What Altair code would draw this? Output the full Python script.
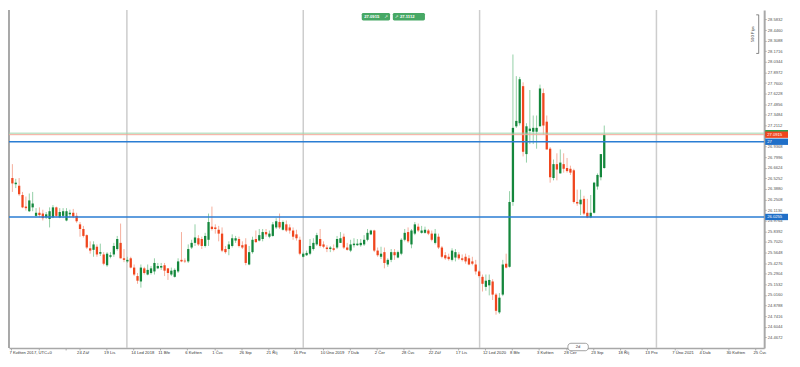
import altair as alt
import pandas as pd

# ---------------- data (weekly EUR/CZK candles) ----------------
first_week = "2017-05-07"

opens = [26.53, 26.45, 26.43, 26.31, 26.16, 26.10, 26.15, 26.04, 26.08, 26.07,
         26.02, 26.00, 26.02, 26.15, 26.02, 26.04, 25.98, 26.06, 26.08, 26.04,
         25.93, 25.87, 25.79, 25.62, 25.60, 25.64, 25.55, 25.54, 25.40, 25.51,
         25.54, 25.61, 25.69, 25.49, 25.45, 25.49, 25.37, 25.26, 25.19, 25.36,
         25.28, 25.30, 25.32, 25.36, 25.37, 25.40, 25.36, 25.28, 25.25, 25.32,
         25.47, 25.46, 25.45, 25.63, 25.69, 25.75, 25.74, 25.65, 25.73, 25.90,
         25.89, 25.86, 25.81, 25.61, 25.61, 25.65, 25.72, 25.74, 25.66, 25.67,
         25.41, 25.57, 25.74, 25.72, 25.74, 25.83, 25.77, 25.78, 25.89, 25.96,
         25.86, 25.93, 25.89, 25.85, 25.80, 25.73, 25.51, 25.53, 25.55, 25.61,
         25.67, 25.74, 25.67, 25.63, 25.61, 25.62, 25.63, 25.69, 25.77, 25.63,
         25.59, 25.66, 25.66, 25.66, 25.67, 25.73, 25.80, 25.85, 25.59, 25.51,
         25.57, 25.41, 25.47, 25.57, 25.50, 25.55, 25.73, 25.83, 25.67, 25.81,
         25.90, 25.82, 25.82, 25.85, 25.81, 25.69, 25.77, 25.63, 25.53, 25.51,
         25.47, 25.50, 25.54, 25.49, 25.51, 25.49, 25.45, 25.41, 25.32, 25.25,
         25.12, 25.14, 25.19, 25.02, 24.79, 25.02, 25.42, 25.38, 26.22, 27.20,
         27.24, 27.72, 26.84, 27.14, 27.13, 27.13, 27.20, 27.63, 27.26, 26.91,
         26.53, 26.71, 26.59, 26.71, 26.66, 26.65, 26.63, 26.22, 26.19, 26.26,
         26.08, 26.02, 26.08, 26.42, 26.54, 26.66]

highs = [26.71, 26.52, 26.53, 26.35, 26.29, 26.33, 26.35, 26.14, 26.15, 26.12,
         26.09, 26.15, 26.18, 26.16, 26.14, 26.14, 26.14, 26.12, 26.13, 26.08,
         25.96, 25.91, 25.80, 25.71, 25.71, 25.67, 25.68, 25.57, 25.57, 25.57,
         25.69, 25.78, 25.94, 25.61, 25.51, 25.51, 25.41, 25.30, 25.41, 25.38,
         25.41, 25.39, 25.49, 25.43, 25.43, 25.43, 25.36, 25.37, 25.36, 25.49,
         25.83, 25.49, 25.67, 25.73, 25.93, 25.79, 25.77, 25.82, 26.07, 26.16,
         25.93, 25.91, 25.89, 25.65, 25.71, 25.80, 25.78, 25.77, 25.71, 25.75,
         25.65, 25.77, 25.85, 25.87, 25.87, 25.87, 25.85, 25.96, 26.01, 26.07,
         25.98, 25.98, 25.93, 25.89, 25.86, 25.77, 25.57, 25.59, 25.74, 25.75,
         25.82, 25.87, 25.71, 25.66, 25.65, 25.67, 25.78, 25.83, 25.81, 25.69,
         25.73, 25.75, 25.74, 25.74, 25.79, 25.87, 25.86, 25.86, 25.63, 25.64,
         25.63, 25.49, 25.61, 25.61, 25.59, 25.75, 25.87, 25.89, 25.87, 25.96,
         25.94, 25.91, 25.90, 25.87, 25.85, 25.87, 25.81, 25.65, 25.57, 25.55,
         25.62, 25.61, 25.57, 25.54, 25.55, 25.53, 25.51, 25.47, 25.34, 25.28,
         25.28, 25.28, 25.22, 25.04, 25.04, 25.47, 25.55, 26.36, 28.13, 27.85,
         27.84, 27.77, 27.24, 27.67, 27.34, 27.34, 27.74, 27.69, 27.34, 26.93,
         26.77, 26.85, 26.90, 26.85, 26.79, 26.69, 26.65, 26.38, 26.38, 26.30,
         26.26, 26.31, 26.48, 26.59, 26.84, 27.21]

lows = [26.35, 26.40, 26.30, 26.14, 26.11, 26.09, 26.10, 26.02, 26.02, 25.98,
        26.00, 25.89, 26.01, 26.02, 26.01, 26.01, 25.97, 26.02, 26.01, 25.95,
        25.77, 25.76, 25.61, 25.55, 25.51, 25.51, 25.52, 25.40, 25.38, 25.49,
        25.51, 25.59, 25.49, 25.44, 25.43, 25.36, 25.26, 25.16, 25.11, 25.28,
        25.27, 25.28, 25.28, 25.35, 25.34, 25.26, 25.21, 25.26, 25.24, 25.30,
        25.44, 25.43, 25.43, 25.61, 25.65, 25.65, 25.61, 25.63, 25.65, 25.85,
        25.81, 25.71, 25.57, 25.55, 25.53, 25.63, 25.69, 25.63, 25.61, 25.40,
        25.40, 25.55, 25.69, 25.71, 25.71, 25.77, 25.75, 25.77, 25.87, 25.87,
        25.85, 25.83, 25.81, 25.73, 25.72, 25.53, 25.50, 25.52, 25.53, 25.59,
        25.65, 25.63, 25.62, 25.57, 25.57, 25.58, 25.61, 25.69, 25.61, 25.59,
        25.57, 25.63, 25.65, 25.64, 25.65, 25.71, 25.79, 25.57, 25.51, 25.48,
        25.36, 25.38, 25.44, 25.47, 25.49, 25.53, 25.71, 25.69, 25.62, 25.79,
        25.83, 25.81, 25.81, 25.79, 25.71, 25.67, 25.61, 25.49, 25.47, 25.46,
        25.45, 25.45, 25.47, 25.45, 25.42, 25.40, 25.40, 25.28, 25.24, 25.06,
        25.07, 25.01, 24.95, 24.76, 24.77, 25.00, 25.36, 25.37, 26.17, 27.18,
        27.21, 26.81, 26.73, 26.97, 26.97, 26.91, 27.20, 27.09, 26.90, 26.47,
        26.50, 26.50, 26.59, 26.60, 26.60, 26.57, 26.20, 26.17, 26.05, 26.05,
        26.01, 26.01, 26.07, 26.38, 26.50, 26.65]

closes = [26.46, 26.47, 26.32, 26.15, 26.14, 26.24, 26.20, 26.08, 26.05, 26.01,
          26.06, 26.10, 26.15, 26.04, 26.09, 26.10, 26.10, 26.08, 26.03, 25.97,
          25.87, 25.78, 25.63, 25.59, 25.67, 25.54, 25.57, 25.42, 25.55, 25.53,
          25.65, 25.74, 25.49, 25.47, 25.47, 25.37, 25.28, 25.20, 25.37, 25.30,
          25.34, 25.36, 25.43, 25.39, 25.39, 25.33, 25.30, 25.33, 25.34, 25.45,
          25.45, 25.45, 25.61, 25.69, 25.76, 25.67, 25.65, 25.78, 25.96, 25.87,
          25.87, 25.81, 25.59, 25.57, 25.67, 25.75, 25.75, 25.65, 25.63, 25.43,
          25.57, 25.73, 25.70, 25.79, 25.83, 25.80, 25.81, 25.93, 25.97, 25.89,
          25.96, 25.85, 25.85, 25.77, 25.75, 25.55, 25.55, 25.56, 25.65, 25.69,
          25.79, 25.65, 25.64, 25.61, 25.63, 25.60, 25.74, 25.75, 25.63, 25.60,
          25.67, 25.68, 25.68, 25.69, 25.73, 25.82, 25.85, 25.59, 25.53, 25.55,
          25.43, 25.47, 25.57, 25.53, 25.57, 25.73, 25.82, 25.71, 25.85, 25.93,
          25.85, 25.85, 25.86, 25.81, 25.73, 25.81, 25.63, 25.51, 25.49, 25.48,
          25.59, 25.57, 25.49, 25.47, 25.45, 25.41, 25.42, 25.32, 25.26, 25.16,
          25.20, 25.21, 25.02, 24.81, 24.98, 25.41, 25.37, 26.22, 27.18, 27.27,
          27.81, 26.87, 27.20, 27.17, 27.18, 27.18, 27.69, 27.21, 26.90, 26.54,
          26.71, 26.64, 26.73, 26.65, 26.62, 26.60, 26.22, 26.20, 26.25, 26.07,
          26.02, 26.08, 26.47, 26.57, 26.84, 27.09]

bid = 27.0915
ask = 27.1112
levels = [27.0, 26.0255]
level_labels = ["27", "26.0255"]

tick_dates = ["2017-05-07", "2017-09-24", "2017-11-19", "2018-01-14", "2018-03-11",
              "2018-05-06", "2018-07-01", "2018-08-26", "2018-10-21", "2018-12-16",
              "2019-02-10", "2019-04-07", "2019-06-02", "2019-07-28", "2019-09-22",
              "2019-11-17", "2020-01-12", "2020-03-08", "2020-05-03", "2020-06-28",
              "2020-08-23", "2020-10-18", "2020-12-13", "2021-02-07", "2021-04-04",
              "2021-05-30", "2021-07-25"]
tick_labels = ["7 Květen 2017, UTC+0", "24 Zář", "19 Lis", "14 Led 2018", "11 Bře",
               "6 Květen", "1 Čvc", "26 Srp", "21 Říj", "16 Pro",
               "10 Úno 2019", "7 Dub", "2 Čer", "28 Čvc", "22 Zář",
               "17 Lis", "12 Led 2020", "8 Bře", "3 Květen", "28 Čer",
               "23 Srp", "18 Říj", "13 Pro", "7 Úno 2021", "4 Dub",
               "30 Květen", "25 Čvc"]
hidden_tick_dates = ["2017-07-02", "2017-08-27"]
year_lines = ["2018-01-01", "2019-01-01", "2020-01-01", "2021-01-01"]

# price-axis labels (27.0740 sits under the price tags and is not shown)
y_ticks = [28.5832, 28.4460, 28.3088, 28.1716, 28.0344, 27.8972, 27.7600, 27.6228,
           27.4856, 27.3484, 27.2112, 26.9368, 26.7996, 26.6624, 26.5252,
           26.3880, 26.2508, 26.1136, 25.9764, 25.8392, 25.7020, 25.5648, 25.4276,
           25.2904, 25.1532, 25.0160, 24.8788, 24.7416, 24.6044, 24.4672]

pips_top = 28.644
pips_count = 500
pip_size = 0.001
period_label = "2d"

x_domain = ["2017-05-02", "2021-08-12"]
y_domain = [24.329, 28.7054]

# ---------------- styling ----------------
W, H = 760, 340
FONT = "Liberation Sans"
GREEN = "#14873c"
RED = "#f0461e"
GREEN_WICK = "#93d0a6"
RED_WICK = "#f5ae9c"
BLUE = "#2a7dd3"
AXIS_GREY = "#a8a8a8"
FS = 4.2

# ---------------- frames ----------------
dates = pd.date_range(first_week, periods=len(opens), freq="7D") + pd.Timedelta(days=2)
candles = pd.DataFrame({"date": dates, "open": opens, "high": highs,
                        "low": lows, "close": closes})

labels_df = pd.DataFrame({"date": pd.to_datetime(tick_dates), "label": tick_labels})
years_df = pd.DataFrame({"date": pd.to_datetime(year_lines)})
levels_df = pd.DataFrame({"price": levels, "label": level_labels})
bid_df = pd.DataFrame({"price": [bid]})
ask_df = pd.DataFrame({"price": [ask]})
pips_df = pd.DataFrame({"top": [pips_top],
                        "bottom": [pips_top - pips_count * pip_size],
                        "text": [f"{pips_count} Pips"]})
pips_df["mid"] = (pips_df["top"] + pips_df["bottom"]) / 2
period_df = pd.DataFrame({"label": [period_label]})
one_df = pd.DataFrame({"k": [0]})


def dt(s):
    t = pd.Timestamp(s)
    return alt.DateTime(year=t.year, month=t.month, date=t.day)


xscale = alt.Scale(domain=[dt(x_domain[0]), dt(x_domain[1])], padding=0, nice=False)
yscale = alt.Scale(domain=y_domain, nice=False, zero=False, padding=0)

axis_ticks = [dt(d) for d in sorted(tick_dates + hidden_tick_dates)]

x_axis = alt.Axis(values=axis_ticks, labels=False, ticks=True, tickSize=2,
                  tickColor=AXIS_GREY, domainColor=AXIS_GREY, domainWidth=1.5,
                  grid=False, title=None)
y_axis = alt.Axis(orient="right", values=y_ticks, format=".4f",
                  labelFontSize=FS, labelFont=FONT, labelColor="#555555",
                  labelPadding=1, tickSize=2, tickColor=AXIS_GREY,
                  domainColor=AXIS_GREY, domainWidth=2, grid=False, title=None)


def X(f="date:T"):
    return alt.X(f, scale=xscale, axis=x_axis, title=None)


def Y(f):
    return alt.Y(f, scale=yscale, axis=y_axis, title=None)


up = "datum.close >= datum.open"

# year separators
grid = alt.Chart(years_df).mark_rule(color="#cdcdcd", strokeWidth=1.5).encode(x=X())

# left frame line
left_line = alt.Chart(one_df).mark_rule(color="#8c8c8c", strokeWidth=1.5).encode(
    x=alt.value(0), y=alt.value(0), y2=alt.value(H))

wicks = alt.Chart(candles).mark_rule(strokeWidth=1).encode(
    x=X(), y=Y("low:Q"), y2="high:Q",
    color=alt.condition(up, alt.value(GREEN_WICK), alt.value(RED_WICK)))

bodies = alt.Chart(candles).mark_bar(size=2.3).encode(
    x=X(), y=Y("open:Q"), y2="close:Q",
    color=alt.condition(up, alt.value(GREEN), alt.value(RED)))

# horizontal lines
level_lines = alt.Chart(levels_df).mark_rule(color=BLUE, strokeWidth=1.6).encode(y=Y("price:Q"))
ask_line = alt.Chart(ask_df).mark_rule(color="#9fd6ad", strokeWidth=1).encode(y=Y("price:Q"))
bid_line = alt.Chart(bid_df).mark_rule(color="#f3a898", strokeWidth=1).encode(y=Y("price:Q"))


# price tags on the right axis
def tag(df, col):
    return alt.Chart(df).mark_rule(color=col, strokeWidth=6.4).encode(
        x=alt.value(W + 1), x2=alt.value(W + 24), y=Y("price:Q"))


ask_tag = tag(ask_df, "#2f9e50")
bid_tag = tag(bid_df, "#f0461e")
level_tag = tag(levels_df, "#1f6fc8")
bid_tag_text = alt.Chart(bid_df).mark_text(align="left", baseline="middle", fontSize=FS,
                                           font=FONT, color="white").encode(
    x=alt.value(W + 3), y=Y("price:Q"), text=alt.Text("price:Q", format=".4f"))
level_tag_text = alt.Chart(levels_df).mark_text(align="left", baseline="middle", fontSize=FS,
                                                font=FONT, color="white").encode(
    x=alt.value(W + 3), y=Y("price:Q"), text="label:N")

# x-axis labels
xlabels = alt.Chart(labels_df).mark_text(align="left", baseline="middle", dx=-2,
                                         fontSize=FS, font=FONT, color="#333333").encode(
    x=X(), y=alt.value(H + 4.6), text="label:N")

# sell / buy buttons at top
btn1 = alt.Chart(bid_df).mark_rect(color="#47a865", cornerRadius=1.5).encode(
    x=alt.value(355), x2=alt.value(383.5), y=alt.value(2.8), y2=alt.value(10.4))
btn1_txt = alt.Chart(bid_df).mark_text(align="left", baseline="middle", fontSize=FS,
                                       font=FONT, fontWeight="bold", color="white").encode(
    x=alt.value(357.5), y=alt.value(6.7), text=alt.Text("price:Q", format=".4f"))
btn1_icon = alt.Chart(bid_df).mark_text(baseline="middle", fontSize=4.5, font="DejaVu Sans",
                                        color="white").encode(
    x=alt.value(379.5), y=alt.value(6.7), text=alt.value("↗"))
btn2 = alt.Chart(ask_df).mark_rect(color="#47a865", cornerRadius=1.5).encode(
    x=alt.value(386.3), x2=alt.value(418.6), y=alt.value(2.8), y2=alt.value(10.4))
btn2_icon = alt.Chart(ask_df).mark_text(baseline="middle", fontSize=4.5, font="DejaVu Sans",
                                        color="white").encode(
    x=alt.value(390), y=alt.value(6.7), text=alt.value("↗"))
btn2_txt = alt.Chart(ask_df).mark_text(align="left", baseline="middle", fontSize=FS,
                                       font=FONT, fontWeight="bold", color="white").encode(
    x=alt.value(393.5), y=alt.value(6.7), text=alt.Text("price:Q", format=".4f"))

# 500 pips ruler
pips_bar = alt.Chart(pips_df).mark_rule(color="#666666", strokeWidth=0.8).encode(
    x=alt.value(754.5), y=Y("top:Q"), y2="bottom:Q")
pips_cap_top = alt.Chart(pips_df).mark_rule(color="#666666", strokeWidth=0.8).encode(
    x=alt.value(752), x2=alt.value(754.5), y=Y("top:Q"))
pips_cap_bot = alt.Chart(pips_df).mark_rule(color="#666666", strokeWidth=0.8).encode(
    x=alt.value(752), x2=alt.value(754.5), y=Y("bottom:Q"))
pips_txt = alt.Chart(pips_df).mark_text(angle=270, baseline="middle", fontSize=FS,
                                        font=FONT, color="#555555").encode(
    x=alt.value(749), y=Y("mid:Q"), text="text:N")

# period box on the time axis
period_box = alt.Chart(period_df).mark_rect(fill="white", stroke="#888888", strokeWidth=0.8,
                                            cornerRadius=3).encode(
    x=alt.value(562.5), x2=alt.value(583), y=alt.value(H - 4.7), y2=alt.value(H + 2.8))
period_txt = alt.Chart(period_df).mark_text(baseline="middle", fontSize=4, font=FONT,
                                            color="#333333").encode(
    x=alt.value(572.7), y=alt.value(H - 1), text="label:N")

chart = alt.layer(
    grid, left_line, wicks, bodies,
    level_lines, ask_line, bid_line,
    ask_tag, bid_tag, level_tag, bid_tag_text, level_tag_text,
    xlabels, period_box, period_txt,
    btn1, btn1_txt, btn1_icon, btn2, btn2_icon, btn2_txt,
    pips_bar, pips_cap_top, pips_cap_bot, pips_txt,
).properties(
    width=W, height=H, padding=0, background="white"
).configure_view(strokeWidth=0)

chart.save("out.html", embed_options={"renderer": "svg", "actions": False})
